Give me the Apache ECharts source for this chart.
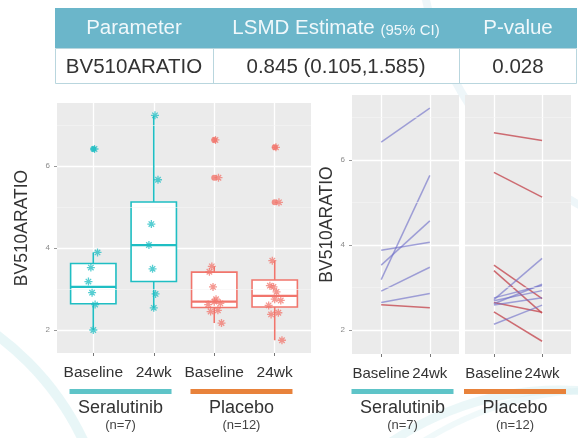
<!DOCTYPE html>
<html><head><meta charset="utf-8">
<script src="https://cdn.jsdelivr.net/npm/echarts@6/dist/echarts.min.js"></script>
<style>html,body{margin:0;padding:0;background:#fff}#c{width:578px;height:438px}</style>
</head><body><div id="c"></div><script>
// ---------------- data ----------------
const tableHeader = ['Parameter', 'LSMD Estimate', 'P-value'];
const tableHeaderNote = '(95% CI)';
const tableRow = ['BV510ARATIO', '0.845 (0.105,1.585)', '0.028'];
const timepoints = ['Baseline', '24wk'];
const groups = ['Seralutinib', 'Placebo'];
const groupN = ['(n=7)', '(n=12)'];
const yTicks = [2, 4, 6];
const yMinor = [3, 5, 7];
const yTitle = 'BV510ARATIO';

// box stats: [lower whisker, Q1, median, Q3, upper whisker]
const boxSeraBase = [2.0, 2.64, 3.05, 3.62, 3.89];
const boxSera24 = [2.53, 3.18, 4.07, 5.12, 7.22];
const boxPlacBase = [2.17, 2.55, 2.69, 3.41, 3.55];
const boxPlac24 = [1.75, 2.56, 2.83, 3.22, 3.69];
const outSeraBase = [6.41];
const outSera24 = [];
const outPlacBase = [6.63, 5.71];
const outPlac24 = [6.45, 5.11];
// individual (jittered) points
const ptsSeraBase = [6.41, 3.89, 3.52, 3.18, 2.91, 2.62, 2.0];
const ptsSera24 = [7.23, 5.66, 4.58, 4.07, 3.49, 2.88, 2.54];
const ptsPlacBase = [6.63, 5.71, 3.55, 3.42, 3.05, 2.75, 2.69, 2.65, 2.62, 2.48, 2.45, 2.17];
const ptsPlac24 = [6.45, 5.11, 3.69, 3.08, 3.05, 2.93, 2.75, 2.72, 2.60, 2.42, 2.38, 1.75];
// subject trajectories (baseline -> 24wk)
const seraBaseline = [6.42, 3.19, 3.53, 3.88, 2.92, 2.65, 2.60];
const sera24wk    = [7.22, 5.64, 4.57, 4.07, 3.48, 2.86, 2.53];
const placBaseline = [6.64, 5.71, 3.53, 3.40, 2.43, 2.65, 2.72, 2.76, 2.69, 2.14, 2.59, 2.62];
const plac24wk     = [6.46, 5.13, 2.74, 2.40, 1.74, 2.42, 3.69, 3.05, 2.93, 2.59, 2.76, 3.08];

// ---------------- styles ----------------
const TEAL = '#1FBEC3', RED = '#F1756C';
const UP = 'rgba(110,110,200,0.62)', DOWN = 'rgba(196,70,78,0.78)';
const FONT = '"Liberation Sans", Arial, sans-serif';
const Y_MIN = 1.44, Y_MAX = 7.53;
const jitterPattern = [0.02, 0.07, -0.04, -0.08, -0.02, 0.03, 0.0, 0.1, -0.1, 0.06, -0.06, 0.12];

const chart = echarts.init(document.getElementById('c'), null, {renderer: 'canvas'});

function yAxisCfg(gridIndex, showLabels) {
  return {
    type: 'value', gridIndex, min: Y_MIN, max: Y_MAX,
    axisLine: {show: false},
    axisTick: {show: showLabels, customValues: yTicks, length: 3, lineStyle: {color: '#999'}},
    axisLabel: {show: showLabels, customValues: yTicks, fontSize: 8, color: '#8a8a8a', margin: 7, fontFamily: FONT},
    splitLine: {show: true, lineStyle: {color: '#fff', width: 1.3}},
    name: showLabels ? yTitle : '', nameLocation: 'middle', nameRotate: 90,
    nameTextStyle: {fontSize: 17.5, color: '#333', fontFamily: FONT}
  };
}
function xAxisCfg(gridIndex, max, vals, fs) {
  return {
    type: 'value', gridIndex, min: 0.4, max: max,
    axisLine: {show: false},
    axisTick: {show: true, customValues: vals, length: 3, lineStyle: {color: '#777'}},
    axisLabel: {customValues: vals, fontSize: fs, color: '#333', margin: 12, fontFamily: FONT,
      formatter: v => timepoints[(Math.round(v) - 1) % 2]},
    splitLine: {show: true, lineStyle: {color: '#fff', width: 1.3}}
  };
}

const grids = [
  {left: 57, top: 103, width: 254, height: 250, show: true, backgroundColor: '#EBEBEB', borderWidth: 0},
  {left: 352, top: 95, width: 107, height: 259, show: true, backgroundColor: '#EBEBEB', borderWidth: 0},
  {left: 465, top: 95, width: 106, height: 259, show: true, backgroundColor: '#EBEBEB', borderWidth: 0}
];

const y0 = yAxisCfg(0, true); y0.nameGap = 26;
const y1 = yAxisCfg(1, true); y1.nameGap = 14;
const y2 = yAxisCfg(2, false);

function minorLines(xi, yi) {
  return {
    type: 'line', xAxisIndex: xi, yAxisIndex: yi, data: [], z: 1, silent: true,
    markLine: {silent: true, symbol: 'none', label: {show: false},
      lineStyle: {color: '#F5F5F5', width: 0.6, type: 'solid'},
      data: yMinor.map(v => ({yAxis: v}))}
  };
}

function boxSeries(stats, x, color) {
  return {
    type: 'custom', xAxisIndex: 0, yAxisIndex: 0, z: 3,
    itemStyle: {color},
    data: [[x].concat(stats)],
    encode: {x: 0, y: [1, 2, 3, 4, 5]},
    renderItem(params, api) {
      const cx = api.value(0), lw = api.value(1), q1 = api.value(2), md = api.value(3), q3 = api.value(4), uw = api.value(5);
      const h = 0.375;
      const a = api.coord([cx - h, q3]), b = api.coord([cx + h, q1]);
      const m1 = api.coord([cx - h, md]), m2 = api.coord([cx + h, md]);
      const t = api.coord([cx, uw]), t2 = api.coord([cx, q3]);
      const bt = api.coord([cx, lw]), bt2 = api.coord([cx, q1]);
      const c = api.visual('color');
      return {type: 'group', children: [
        {type: 'line', shape: {x1: t[0], y1: t[1], x2: t2[0], y2: t2[1]}, style: {stroke: c, lineWidth: 1.6}},
        {type: 'line', shape: {x1: bt[0], y1: bt[1], x2: bt2[0], y2: bt2[1]}, style: {stroke: c, lineWidth: 1.6}},
        {type: 'rect', shape: {x: a[0], y: a[1], width: b[0] - a[0], height: b[1] - a[1]}, style: {fill: '#fff', stroke: c, lineWidth: 1.6}},
        {type: 'line', shape: {x1: m1[0], y1: m1[1], x2: m2[0], y2: m2[1]}, style: {stroke: c, lineWidth: 2.2}}
      ]};
    }
  };
}

const STAR = 'path://M0,5L10,5M5,0L5,10M1.6,1.6L8.4,8.4M8.4,1.6L1.6,8.4';
function starSeries(vals, x, color) {
  return {
    type: 'scatter', xAxisIndex: 0, yAxisIndex: 0, z: 5, silent: true,
    symbol: STAR, symbolSize: 8,
    itemStyle: {color: 'rgba(0,0,0,0)', borderColor: color, borderWidth: 1.3, opacity: 0.75},
    data: vals.map((v, i) => [x + jitterPattern[i % jitterPattern.length], v])
  };
}
function outlierSeries(vals, x, color) {
  return {
    type: 'scatter', xAxisIndex: 0, yAxisIndex: 0, z: 4, silent: true,
    symbol: 'circle', symbolSize: 6, itemStyle: {color},
    data: vals.map(v => [x, v])
  };
}
function trajSeries(base, wk, gi) {
  return {
    type: 'custom', xAxisIndex: gi, yAxisIndex: gi, z: 3, silent: true,
    data: base.map((b, i) => [1, b, 2, wk[i]]),
    encode: {x: [0, 2], y: [1, 3]},
    renderItem(params, api) {
      const p1 = api.coord([api.value(0), api.value(1)]);
      const p2 = api.coord([api.value(2), api.value(3)]);
      return {type: 'line', shape: {x1: p1[0], y1: p1[1], x2: p2[0], y2: p2[1]},
        style: {stroke: api.value(3) >= api.value(1) ? UP : DOWN, lineWidth: 1.5}};
    }
  };
}

const series = [
  minorLines(0, 0), minorLines(1, 1), minorLines(2, 2),
  boxSeries(boxSeraBase, 1, TEAL), boxSeries(boxSera24, 2, TEAL),
  boxSeries(boxPlacBase, 3, RED), boxSeries(boxPlac24, 4, RED),
  outlierSeries(outSeraBase, 1, TEAL), outlierSeries(outSera24, 2, TEAL),
  outlierSeries(outPlacBase, 3, RED), outlierSeries(outPlac24, 4, RED),
  starSeries(ptsSeraBase, 1, TEAL), starSeries(ptsSera24, 2, TEAL),
  starSeries(ptsPlacBase, 3, RED), starSeries(ptsPlac24, 4, RED),
  trajSeries(seraBaseline, sera24wk, 1), trajSeries(placBaseline, plac24wk, 2)
];

// text measuring helper
const mctx = document.createElement('canvas').getContext('2d');
function textW(t, fs) { mctx.font = fs + 'px ' + FONT; return mctx.measureText(t).width; }

// table graphics
const colX = [55, 213, 459, 577];
const tTop = 8, tMid = 48, tBot = 84;
const HDR = '#F0F8FB';
const FS_T = 20.5, FS_NOTE = 15;
const tableEls = [
  {type: 'rect', shape: {x: colX[0], y: tTop, width: colX[3] - colX[0], height: tMid - tTop}, style: {fill: '#6BB6CA'}},
  {type: 'rect', shape: {x: colX[0] + 0.5, y: tMid + 0.5, width: colX[3] - colX[0] - 1, height: tBot - tMid - 1}, style: {fill: '#fff', stroke: '#B9D6DE', lineWidth: 1}},
  {type: 'line', shape: {x1: colX[1] + 0.5, y1: tMid, x2: colX[1] + 0.5, y2: tBot}, style: {stroke: '#B9D6DE', lineWidth: 1}},
  {type: 'line', shape: {x1: colX[2] + 0.5, y1: tMid, x2: colX[2] + 0.5, y2: tBot}, style: {stroke: '#B9D6DE', lineWidth: 1}}
];
const hdrBottom = (tTop + tMid) / 2 + 1 + FS_T / 2;
for (let i = 0; i < 3; i++) {
  const cx = (colX[i] + colX[i + 1]) / 2;
  if (i === 1) {
    const w1 = textW(tableHeader[i] + ' ', FS_T), w2 = textW(tableHeaderNote, FS_NOTE);
    const x0 = cx - (w1 + w2) / 2;
    tableEls.push({type: 'text', x: x0, y: hdrBottom, style: {text: tableHeader[i] + ' ', fontSize: FS_T, fill: HDR, fontFamily: FONT, align: 'left', verticalAlign: 'bottom'}});
    tableEls.push({type: 'text', x: x0 + w1, y: hdrBottom - 1, style: {text: tableHeaderNote, fontSize: FS_NOTE, fill: HDR, fontFamily: FONT, align: 'left', verticalAlign: 'bottom'}});
  } else {
    tableEls.push({type: 'text', x: cx, y: hdrBottom, style: {text: tableHeader[i], fontSize: FS_T, fill: HDR, fontFamily: FONT, align: 'center', verticalAlign: 'bottom'}});
  }
  tableEls.push({type: 'text', x: cx, y: (tMid + tBot) / 2 + 1, style: {
    text: tableRow[i], fontSize: FS_T, fill: '#333', fontFamily: FONT, align: 'center', verticalAlign: 'middle'}});
}

// decorative faint background swooshes
const swooshes = [
  {type: 'circle', shape: {cx: -170, cy: 560, r: 280}, style: {fill: 'none', stroke: 'rgba(205,235,238,0.45)', lineWidth: 10}, z: -10},
  {type: 'circle', shape: {cx: 560, cy: 690, r: 300}, style: {fill: 'none', stroke: 'rgba(205,235,238,0.40)', lineWidth: 9}, z: -10},
  {type: 'circle', shape: {cx: 600, cy: 720, r: 330}, style: {fill: 'none', stroke: 'rgba(205,235,238,0.30)', lineWidth: 6}, z: -10},
  {type: 'circle', shape: {cx: 720, cy: -60, r: 300}, style: {fill: 'none', stroke: 'rgba(205,228,238,0.35)', lineWidth: 8}, z: -10}
];

chart.setOption({
  backgroundColor: '#fff',
  animation: false,
  textStyle: {fontFamily: FONT},
  grid: grids,
  xAxis: [xAxisCfg(0, 4.6, [1, 2, 3, 4], 15.5), xAxisCfg(1, 2.6, [1, 2], 15), xAxisCfg(2, 2.6, [1, 2], 15)],
  yAxis: [y0, y1, y2],
  series,
  graphic: swooshes.concat(tableEls)
});

// group annotations (bars + names) positioned from the axes
const annot = [];
function addGroup(xi, xa, xb, gi, color) {
  const pa = chart.convertToPixel({xAxisIndex: xi}, xa);
  const pb = chart.convertToPixel({xAxisIndex: xi}, xb);
  const cx = (pa + pb) / 2 - 3;
  annot.push({type: 'rect', shape: {x: cx - 51, y: 389, width: 102, height: 5}, style: {fill: color}});
  annot.push({type: 'text', x: cx, y: 408, style: {text: groups[gi], fontSize: 18, fill: '#333', fontFamily: FONT, align: 'center', verticalAlign: 'middle'}});
  annot.push({type: 'text', x: cx, y: 425, style: {text: groupN[gi], fontSize: 13, fill: '#444', fontFamily: FONT, align: 'center', verticalAlign: 'middle'}});
}
addGroup(0, 1, 2, 0, '#5EC4C8');
addGroup(0, 3, 4, 1, '#E8823B');
addGroup(1, 1, 2, 0, '#5EC4C8');
addGroup(2, 1, 2, 1, '#E8823B');
chart.setOption({graphic: swooshes.concat(tableEls).concat(annot)});
</script></body></html>
